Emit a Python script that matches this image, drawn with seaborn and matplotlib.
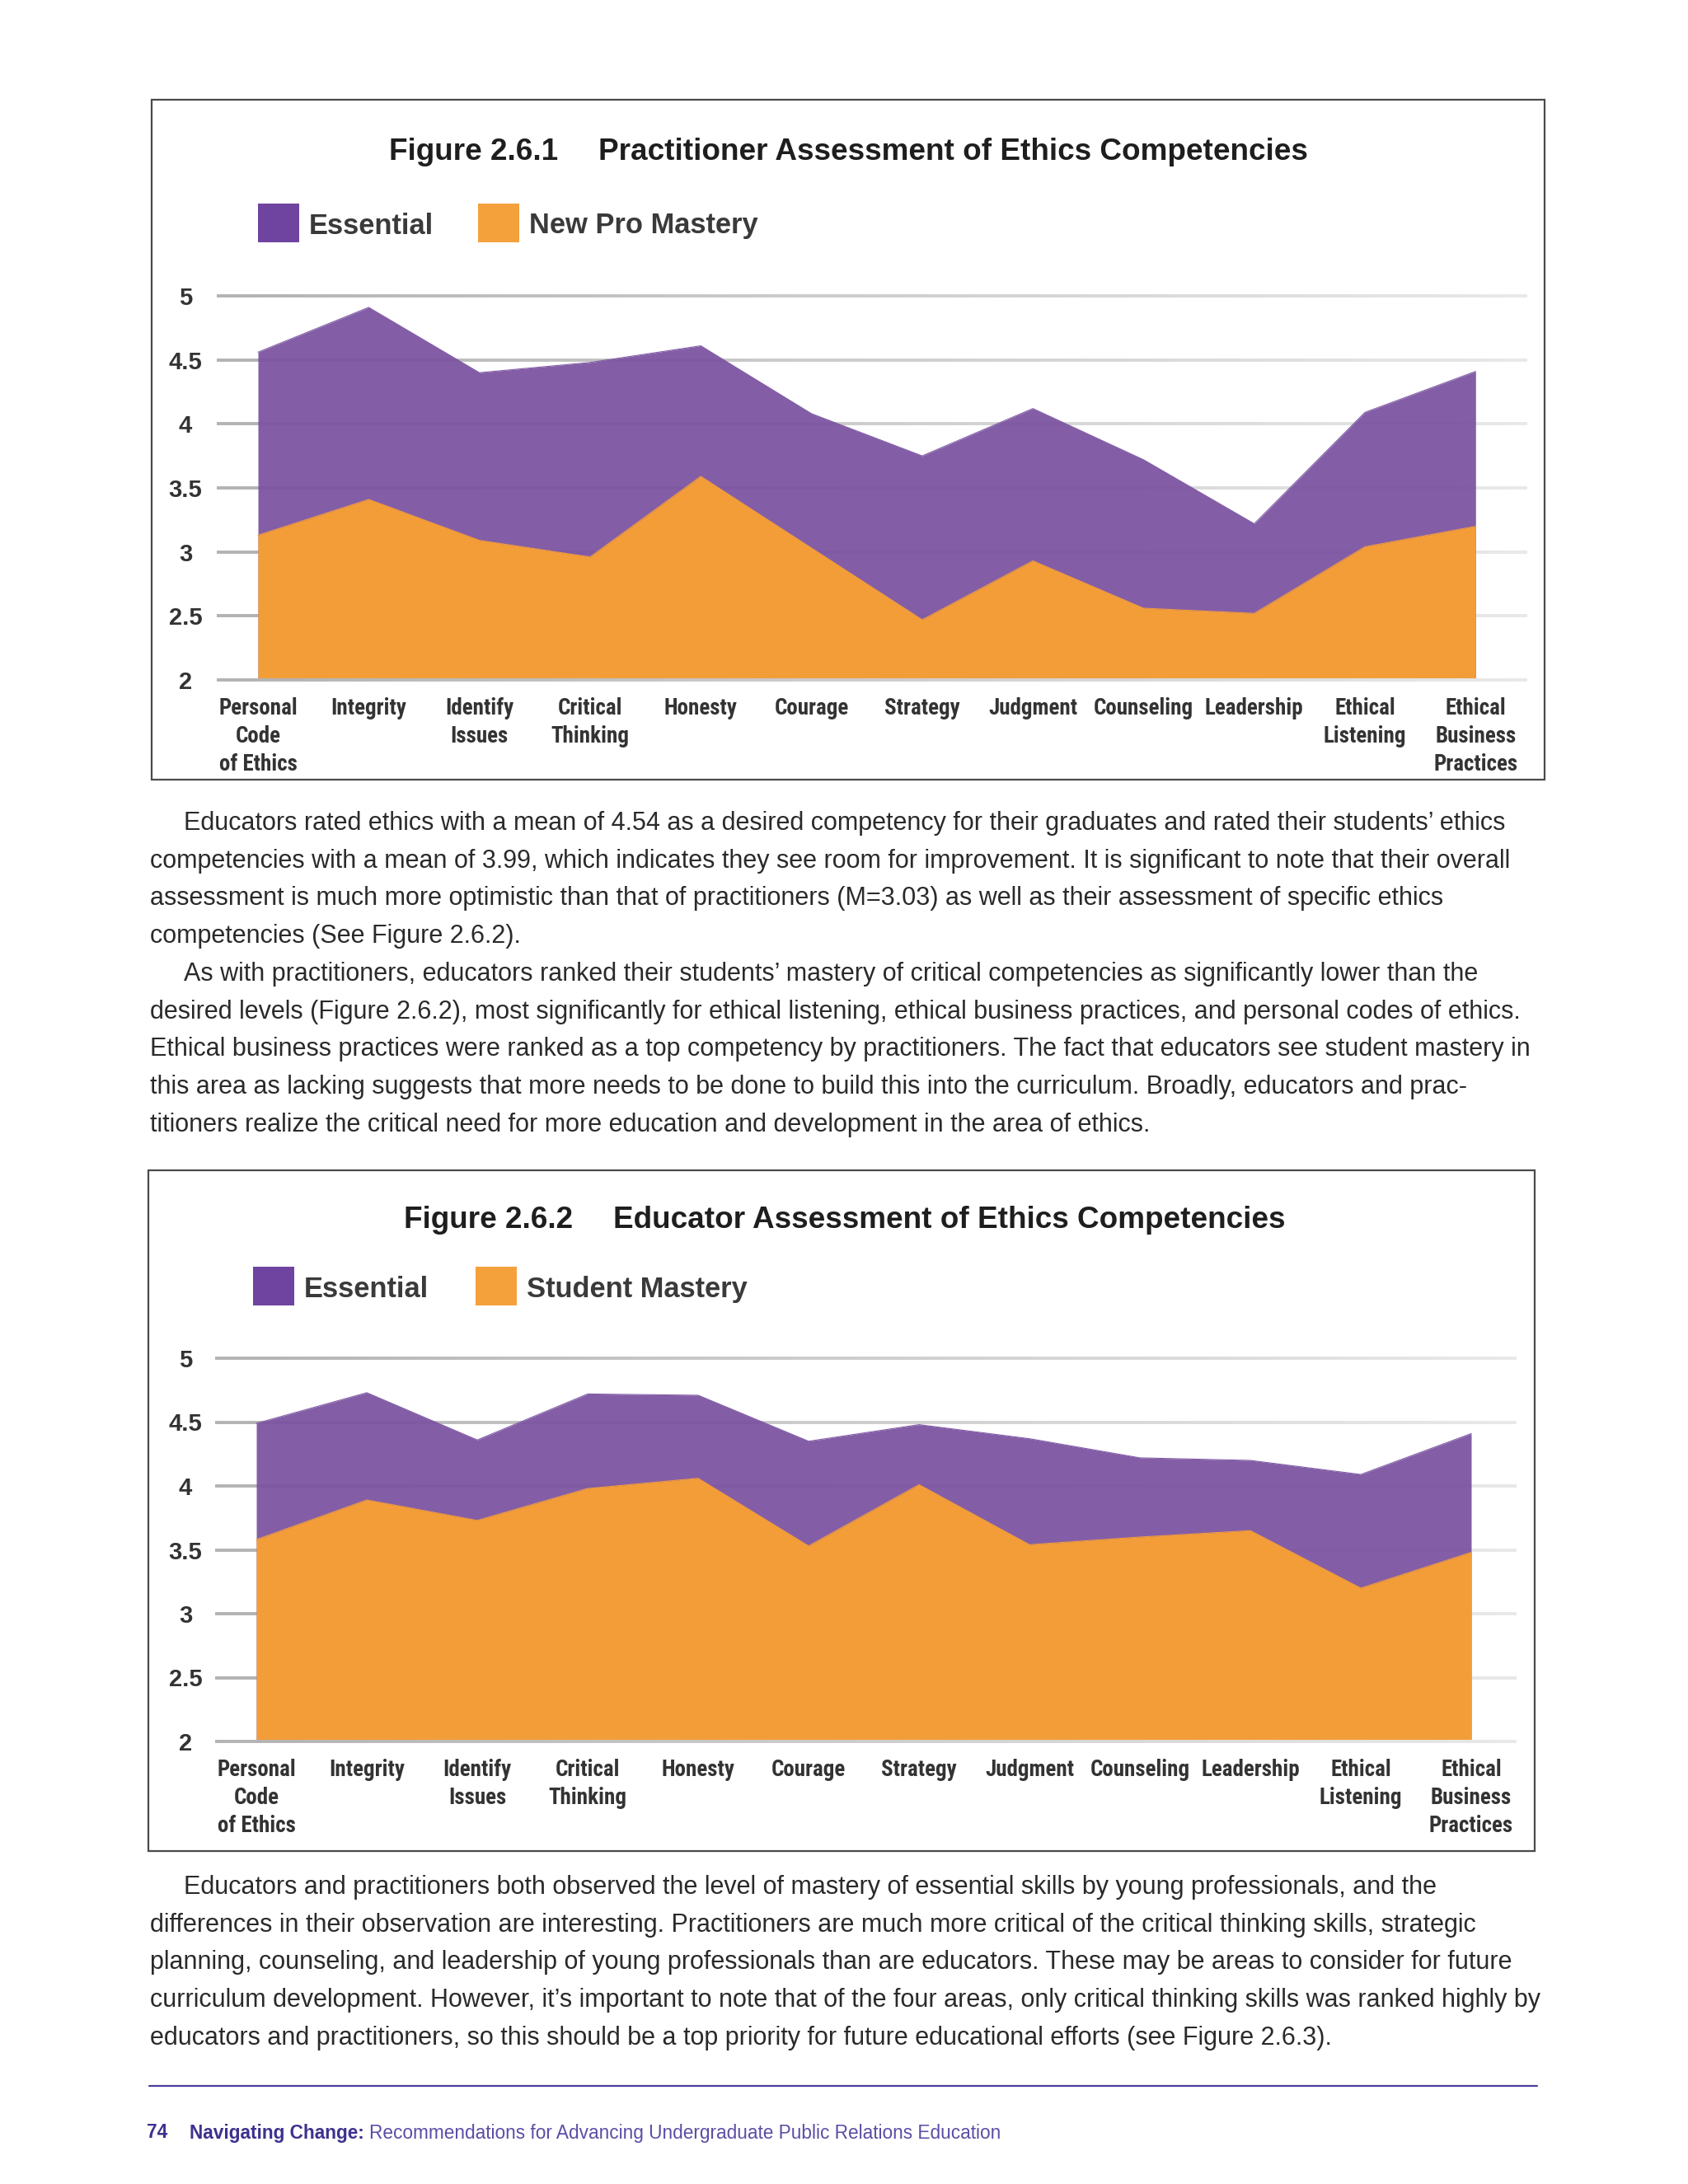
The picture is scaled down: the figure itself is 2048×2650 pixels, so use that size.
import numpy as np
import pandas as pd
import seaborn as sns
import matplotlib.pyplot as plt
from matplotlib.patches import Rectangle
from matplotlib.collections import LineCollection

# competencies shown on both charts
categories = ["Personal\nCode\nof Ethics", "Integrity", "Identify\nIssues", "Critical\nThinking",
              "Honesty", "Courage", "Strategy", "Judgment", "Counseling", "Leadership",
              "Ethical\nListening", "Ethical\nBusiness\nPractices"]

# Figure 2.6.1 - practitioners
practitioner_essential = [4.56, 4.91, 4.40, 4.48, 4.61, 4.08, 3.75, 4.12, 3.72, 3.22, 4.09, 4.41]
practitioner_mastery = [3.13, 3.41, 3.09, 2.96, 3.59, 3.03, 2.47, 2.93, 2.56, 2.52, 3.04, 3.20]

# Figure 2.6.2 - educators
educator_essential = [4.49, 4.73, 4.36, 4.72, 4.71, 4.35, 4.48, 4.37, 4.22, 4.20, 4.09, 4.41]
educator_mastery = [3.58, 3.89, 3.73, 3.98, 4.06, 3.53, 4.01, 3.54, 3.60, 3.65, 3.20, 3.48]

y_ticks = [2, 2.5, 3, 3.5, 4, 4.5, 5]
y_tick_labels = ["2", "2.5", "3", "3.5", "4", "4.5", "5"]

para1 = [
    "Educators rated ethics with a mean of 4.54 as a desired competency for their graduates and rated their students\u2019 ethics",
    "competencies with a mean of 3.99, which indicates they see room for improvement. It is significant to note that their overall",
    "assessment is much more optimistic than that of practitioners (M=3.03) as well as their assessment of specific ethics",
    "competencies (See Figure 2.6.2).",
    "As with practitioners, educators ranked their students\u2019 mastery of critical competencies as significantly lower than the",
    "desired levels (Figure 2.6.2), most significantly for ethical listening, ethical business practices, and personal codes of ethics.",
    "Ethical business practices were ranked as a top competency by practitioners. The fact that educators see student mastery in",
    "this area as lacking suggests that more needs to be done to build this into the curriculum. Broadly, educators and prac-",
    "titioners realize the critical need for more education and development in the area of ethics.",
]
para1_indent = [True, False, False, False, True, False, False, False, False]
para2 = [
    "Educators and practitioners both observed the level of mastery of essential skills by young professionals, and the",
    "differences in their observation are interesting. Practitioners are much more critical of the critical thinking skills, strategic",
    "planning, counseling, and leadership of young professionals than are educators. These may be areas to consider for future",
    "curriculum development. However, it\u2019s important to note that of the four areas, only critical thinking skills was ranked highly by",
    "educators and practitioners, so this should be a top priority for future educational efforts (see Figure 2.6.3).",
]
para2_indent = [True, False, False, False, False]

PURPLE = "#7a52a0"
PURPLE_KEY = "#6f44a0"
ORANGE = "#f39d39"
ORANGE_KEY = "#f4a13c"
INK = "#2a2a2a"
LABEL = "#333333"
INDIGO = "#3d318f"
INDIGO_LIGHT = "#5b4ea6"

sns.set_theme(style="white")
plt.rcParams["font.family"] = ["Liberation Sans", "DejaVu Sans"]
NARROW = ["Roboto Condensed", "Roboto", "DejaVu Sans"]

W, H = 2048, 2650
fig = plt.figure(figsize=(W / 100, H / 100), dpi=100)
fig.patch.set_facecolor("white")
renderer = fig.canvas.get_renderer()


def ftext(x, y, s, **kw):
    return fig.text(x / W, 1 - y / H, s, **kw)


def fit_size(s, width, **kw):
    t = fig.text(0, 0, s, fontsize=20, **kw)
    w = t.get_window_extent(renderer).width
    t.remove()
    return 20 * width / w


def draw_chart(frame, fig_no, title, title_x, title_y, keys, key_x, key_y,
               essential, mastery, cat0, step, y5, y2, grid_l, grid_r, title_fs, key_fs, cat_fs):
    l, t, r, b = frame
    fig.add_artist(Rectangle((l / W, 1 - b / H), (r - l) / W, (b - t) / H,
                             transform=fig.transFigure, fill=False, ec="#4a4a4a", lw=1.6))
    ftext(title_x[0], title_y, fig_no, fontsize=title_fs, fontweight="bold", color="#1e1e1e", va="center")
    ftext(title_x[1], title_y, title, fontsize=title_fs, fontweight="bold", color="#1e1e1e", va="center")

    # legend keys
    for (name, col), kx in zip(keys, key_x):
        fig.add_artist(Rectangle((kx / W, 1 - (key_y + 23) / H), 50 / W, 47 / H,
                                 transform=fig.transFigure, color=col, lw=0))
        ftext(kx + 62, key_y + 3, name, fontsize=key_fs, fontweight="bold", color="#3a3a3a", va="center")

    unit = (y2 - y5) / 3.0
    pad = 0.03
    ax = fig.add_axes([grid_l / W, 1 - (y2 + pad * unit) / H,
                       (grid_r - grid_l) / W, (y2 - y5 + 2 * pad * unit) / H])
    x_lo = (grid_l - cat0) / step
    x_hi = (grid_r - cat0) / step
    ax.set_xlim(x_lo, x_hi)
    ax.set_ylim(2 - pad, 5 + pad)
    ax.set_facecolor("white")
    for s in ax.spines.values():
        s.set_visible(False)

    # gridlines fading to the right
    xs = np.linspace(x_lo, x_hi, 60)
    for v in y_ticks:
        segs = [[(xs[i], v), (xs[i + 1], v)] for i in range(len(xs) - 1)]
        g = np.linspace(0.70, 0.91, len(segs))
        lc = LineCollection(segs, colors=[(c, c, c) for c in g], linewidths=2.8,
                            zorder=1 if v > 2 else 4, capstyle="butt")
        ax.add_collection(lc)

    df = pd.DataFrame({"pos": np.arange(len(categories)), "essential": essential, "mastery": mastery})
    ax.fill_between(df["pos"], 2, df["essential"], color=PURPLE, alpha=0.93, lw=0, zorder=2)
    ax.fill_between(df["pos"], 2, df["mastery"], color=ORANGE, lw=0, zorder=3)
    sns.lineplot(data=df, x="pos", y="essential", color=PURPLE, alpha=0.93, lw=0.8, ax=ax, zorder=2)
    sns.lineplot(data=df, x="pos", y="mastery", color=ORANGE, lw=0.8, ax=ax, zorder=3)
    ax.set_xlabel("")
    ax.set_ylabel("")

    ax.set_yticks(y_ticks)
    ax.set_yticklabels(y_tick_labels, fontsize=21, fontweight="bold", color=LABEL, ha="center")
    ax.set_xticks(df["pos"])
    ax.set_xticklabels(categories, fontsize=cat_fs, fontweight="bold", color=LABEL,
                       family=NARROW, linespacing=1.33, va="top")
    ax.tick_params(axis="y", length=0, pad=(grid_l - 225) * 0.72)
    ax.tick_params(axis="x", length=0, pad=12)
    ax.grid(False)
    return ax


title_fs = fit_size("Practitioner Assessment of Ethics Competencies", 860, fontweight="bold")
key_fs = fit_size("New Pro Mastery", 278, fontweight="bold")
cat_fs = fit_size("Counseling", 121, fontweight="bold", family=NARROW)

draw_chart((184, 121, 1874, 946), "Figure 2.6.1", "Practitioner Assessment of Ethics Competencies",
           (472, 726), 184,
           [("Essential", PURPLE_KEY), ("New Pro Mastery", ORANGE_KEY)], (313, 580), 271,
           practitioner_essential, practitioner_mastery,
           313, 134.3, 359, 825, 263, 1853, title_fs, key_fs, cat_fs)

draw_chart((180, 1420, 1862, 2246), "Figure 2.6.2", "Educator Assessment of Ethics Competencies",
           (490, 744), 1480,
           [("Essential", PURPLE_KEY), ("Student Mastery", ORANGE_KEY)], (307, 577), 1561,
           educator_essential, educator_mastery,
           311, 134.0, 1648, 2113, 261, 1840, title_fs, key_fs, cat_fs)

# body text
body_fs = fit_size(para1[6], 1675)
for i, (line, ind) in enumerate(zip(para1, para1_indent)):
    ftext(223 if ind else 182, 999 + i * 45.7, line, fontsize=body_fs, color=INK, va="center")
for i, (line, ind) in enumerate(zip(para2, para2_indent)):
    ftext(223 if ind else 182, 2290 + i * 45.7, line, fontsize=body_fs, color=INK, va="center")

# footer
fig.add_artist(plt.Line2D([181 / W, 1865 / W], [1 - 2531 / H, 1 - 2531 / H],
                          transform=fig.transFigure, color="#4a3f9c", lw=1.6))
foot_fs = 16.3
ftext(178, 2588, "74", fontsize=foot_fs, fontweight="bold", color=INDIGO, va="center")
t2 = ftext(230, 2588, "Navigating Change:", fontsize=foot_fs, fontweight="bold", color=INDIGO, va="center")
x_end = t2.get_window_extent(renderer).x1
fig.text(x_end / W + 6 / W, 1 - 2588 / H, "Recommendations for Advancing Undergraduate Public Relations Education",
         fontsize=foot_fs, color=INDIGO_LIGHT, va="center")

fig.savefig("out.png", dpi=100, facecolor="white")
